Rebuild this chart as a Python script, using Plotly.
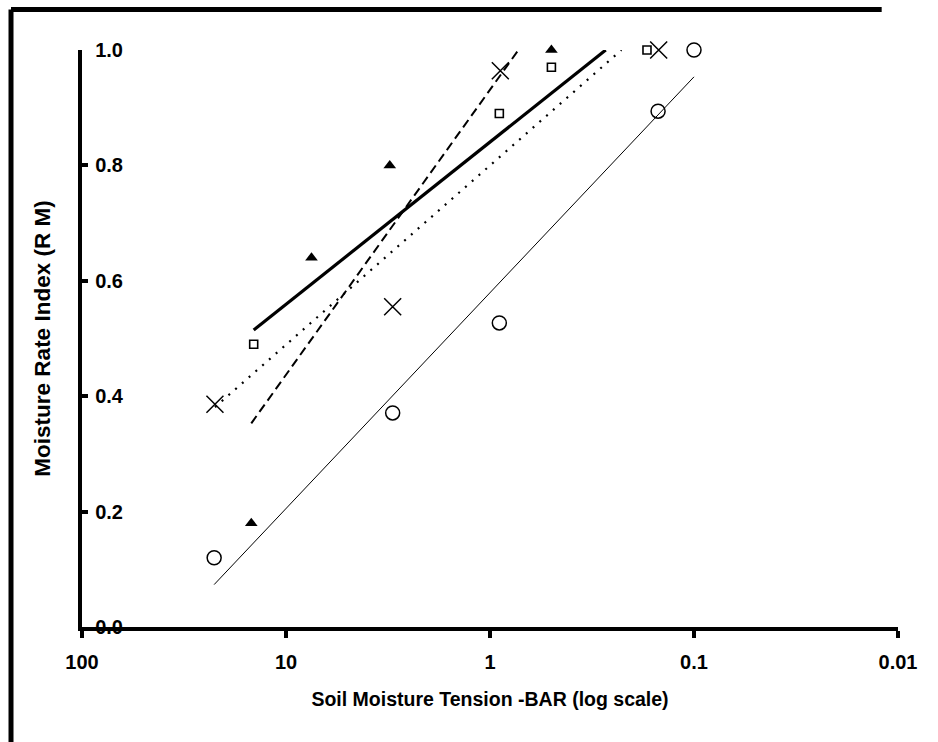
import numpy as np
import plotly.graph_objects as go

# ---- data ----
tri_x = [14.8, 7.5, 3.1, 0.5]
tri_y = [0.18, 0.64, 0.80, 1.00]

sq_x = [14.4, 0.9, 0.5, 0.17]
sq_y = [0.49, 0.89, 0.97, 1.00]

x_x = [22.3, 3.0, 0.89, 0.149]
x_y = [0.386, 0.555, 0.964, 1.00]

ci_x = [22.5, 3.0, 0.9, 0.15, 0.1]
ci_y = [0.12, 0.371, 0.527, 0.894, 1.00]

x_tickvals = [100, 10, 1, 0.1, 0.01]
x_ticktext = ["100", "10", "1", "0.1", "0.01"]
y_tickvals = [0.0, 0.2, 0.4, 0.6, 0.8, 1.0]
y_ticktext = ["0.0", "0.2", "0.4", "0.6", "0.8", "1.0"]

x_title = "Soil Moisture Tension -BAR (log scale)"
y_title = "Moisture Rate Index (R M)"

FONT = "Liberation Sans, Arial, sans-serif"


def trend(xs, ys, ymax=1.0):
    lx = np.log10(np.array(xs, dtype=float))
    slope, icpt = np.polyfit(lx, np.array(ys, dtype=float), 1)
    start = lx.max()
    end = lx.min()
    # clip where the fitted line reaches the top of the axis
    l_top = (ymax - icpt) / slope
    if slope < 0 and l_top > end:
        end = l_top
    lxs = np.array([start, end])
    return (10 ** lxs).tolist(), (slope * lxs + icpt).tolist()


fig = go.Figure()

# trend lines
tx, ty = trend(tri_x, tri_y)
fig.add_trace(go.Scatter(x=tx, y=ty, mode="lines",
                         line=dict(color="black", width=2, dash="9px,5px")))
tx, ty = trend(sq_x, sq_y)
fig.add_trace(go.Scatter(x=tx, y=ty, mode="lines",
                         line=dict(color="black", width=3.2)))
tx, ty = trend(x_x, x_y)
fig.add_trace(go.Scatter(x=tx, y=ty, mode="lines",
                         line=dict(color="black", width=2.2, dash="2px,7px")))
tx, ty = trend(ci_x, ci_y)
fig.add_trace(go.Scatter(x=tx, y=ty, mode="lines",
                         line=dict(color="black", width=1)))

# markers
fig.add_trace(go.Scatter(x=tri_x, y=tri_y, mode="markers", cliponaxis=False,
                         marker=dict(symbol="triangle-up", size=11, color="black")))
fig.add_trace(go.Scatter(x=sq_x, y=sq_y, mode="markers", cliponaxis=False,
                         marker=dict(symbol="square-open", size=8, color="black",
                                     line=dict(width=1.6, color="black"))))
fig.add_trace(go.Scatter(x=x_x, y=x_y, mode="markers", cliponaxis=False,
                         marker=dict(symbol="x-thin", size=17, color="black",
                                     line=dict(width=1.5, color="black"))))
fig.add_trace(go.Scatter(x=ci_x, y=ci_y, mode="markers", cliponaxis=False,
                         marker=dict(symbol="circle-open", size=14, color="black",
                                     line=dict(width=1.5, color="black"))))

fig.update_layout(
    width=938, height=742,
    margin=dict(l=82, r=40, t=50, b=115),
    paper_bgcolor="white", plot_bgcolor="white",
    showlegend=False,
    font=dict(family=FONT, color="black", size=20, weight="bold"),
    shapes=[
        dict(type="line", xref="paper", yref="paper",
             x0=-0.087, x1=-0.087, y0=-0.3, y1=1.070,
             line=dict(color="black", width=5), layer="below"),
        dict(type="line", xref="paper", yref="paper",
             x0=-0.087, x1=0.98, y0=1.070, y1=1.070,
             line=dict(color="black", width=5), layer="below"),
    ],
)

fig.update_xaxes(
    type="log", range=[2, -2],
    tickvals=x_tickvals, ticktext=x_ticktext,
    showgrid=False, zeroline=False,
    showline=True, linewidth=4, linecolor="black",
    ticks="outside", ticklen=7, tickwidth=4, tickcolor="black",
    ticklabelstandoff=7,
    tickfont=dict(family=FONT, size=20, color="black", weight="bold"),
    title=dict(text=x_title, standoff=21,
               font=dict(family=FONT, size=19.5, color="black", weight="bold")),
)
fig.update_yaxes(
    range=[0, 1.0],
    tickvals=y_tickvals, ticktext=y_ticktext,
    showgrid=False, zeroline=False,
    showline=True, linewidth=4, linecolor="black",
    ticks="inside", ticklen=6, tickwidth=4, tickcolor="black",
    ticklabelposition="outside",
    ticklabelstandoff=-49,
    tickfont=dict(family=FONT, size=20, color="black", weight="bold"),
    title=dict(text=y_title, standoff=39,
               font=dict(family=FONT, size=22.5, color="black", weight="bold")),
)

fig.write_html("out.html")
